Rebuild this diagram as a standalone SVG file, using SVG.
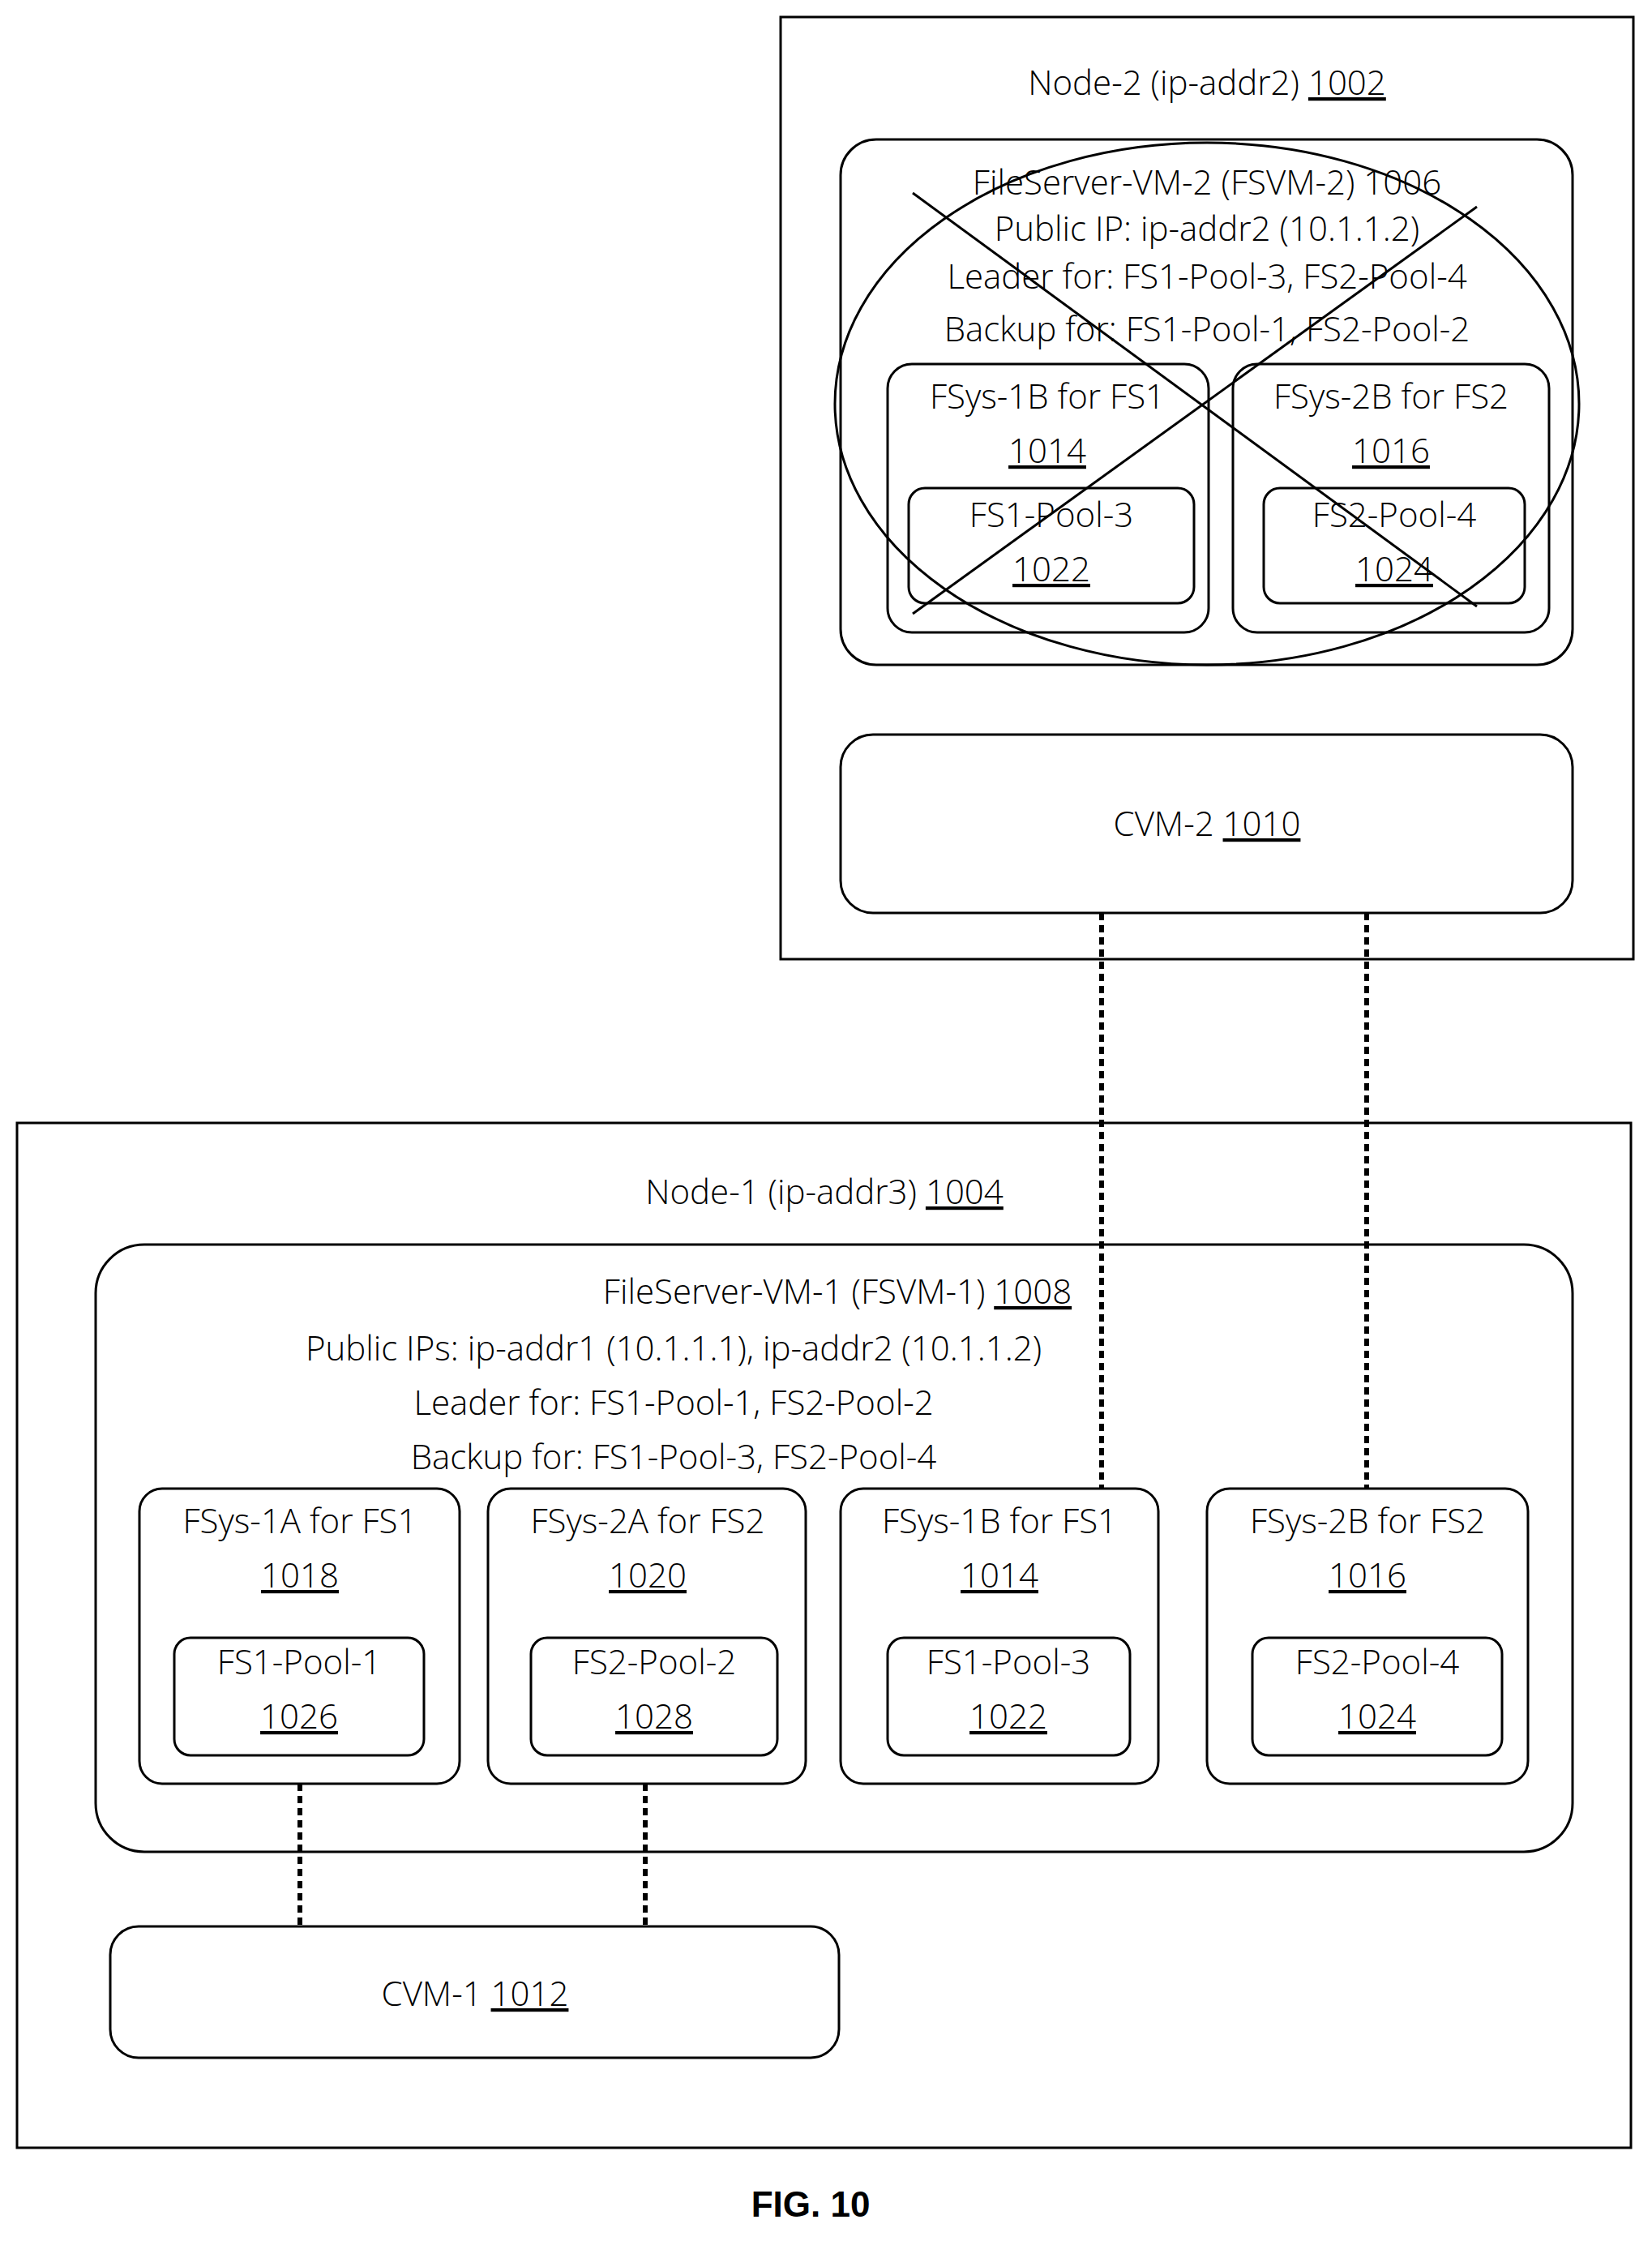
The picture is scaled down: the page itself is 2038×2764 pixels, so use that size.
<svg xmlns="http://www.w3.org/2000/svg" width="2038" height="2764" viewBox="0 0 2038 2764">
<style>
.n{fill:none;stroke:#000;stroke-width:3}
.r{fill:none;stroke:#000;stroke-width:3}
text{font-family:"Open Sans","Liberation Sans",sans-serif;font-weight:300;font-size:42px;text-anchor:middle;fill:#000}
.u{text-decoration:underline}
.d{stroke:#000;stroke-width:6;stroke-dasharray:9 6;fill:none}
</style>
<rect width="2038" height="2764" fill="#fff"/>
<g id="node2">
<rect class="n" x="963" y="21" width="1052" height="1162"/>
<text x="1489" y="117">Node-2 (ip-addr2) <tspan class="u">1002</tspan></text>
</g>
<g id="fsvm2">
<rect class="r" x="1037" y="172" width="903" height="648" rx="44"/>
<text x="1489" y="240">FileServer-VM-2 (FSVM-2) 1006</text>
<text x="1489" y="297">Public IP: ip-addr2 (10.1.1.2)</text>
<text x="1489" y="356">Leader for: FS1-Pool-3, FS2-Pool-4</text>
<text x="1489" y="421">Backup for: FS1-Pool-1, FS2-Pool-2</text>
<rect class="r" x="1095" y="449" width="396" height="331" rx="30"/>
<text x="1292" y="504">FSys-1B for FS1</text>
<text x="1292" y="571" class="u">1014</text>
<rect class="r" x="1121" y="602" width="352" height="142" rx="20"/>
<text x="1297" y="650">FS1-Pool-3</text>
<text x="1297" y="717" class="u">1022</text>
<rect class="r" x="1521" y="449" width="390" height="331" rx="30"/>
<text x="1716" y="504">FSys-2B for FS2</text>
<text x="1716" y="571" class="u">1016</text>
<rect class="r" x="1559" y="602" width="322" height="142" rx="20"/>
<text x="1720" y="650">FS2-Pool-4</text>
<text x="1720" y="717" class="u">1024</text>
<ellipse class="r" cx="1489" cy="498" rx="459" ry="322"/>
<line class="r" x1="1126" y1="238" x2="1822" y2="748"/>
<line class="r" x1="1822" y1="255" x2="1126" y2="757"/>
</g>
<g id="cvm2">
<rect class="r" x="1037" y="906" width="903" height="220" rx="40"/>
<text x="1489" y="1031">CVM-2 <tspan class="u">1010</tspan></text>
</g>
<g id="node1">
<rect class="n" x="21" y="1385" width="1991" height="1264"/>
<text x="1017" y="1485">Node-1 (ip-addr3) <tspan class="u">1004</tspan></text>
</g>
<g id="fsvm1">
<rect class="r" x="118" y="1535" width="1822" height="749" rx="60"/>
<text x="1033" y="1608">FileServer-VM-1 (FSVM-1) <tspan class="u">1008</tspan></text>
<text x="831" y="1678">Public IPs: ip-addr1 (10.1.1.1), ip-addr2 (10.1.1.2)</text>
<text x="831" y="1745">Leader for: FS1-Pool-1, FS2-Pool-2</text>
<text x="831" y="1812">Backup for: FS1-Pool-3, FS2-Pool-4</text>
</g>
<g id="fsys1a">
<rect class="r" x="172" y="1836" width="395" height="364" rx="28"/>
<text x="370" y="1891">FSys-1A for FS1</text>
<text x="370" y="1958" class="u">1018</text>
<rect class="r" x="215" y="2020" width="308" height="145" rx="20"/>
<text x="369" y="2065">FS1-Pool-1</text>
<text x="369" y="2132" class="u">1026</text>
</g>
<g id="fsys2a">
<rect class="r" x="602" y="1836" width="392" height="364" rx="28"/>
<text x="799" y="1891">FSys-2A for FS2</text>
<text x="799" y="1958" class="u">1020</text>
<rect class="r" x="655" y="2020" width="304" height="145" rx="20"/>
<text x="807" y="2065">FS2-Pool-2</text>
<text x="807" y="2132" class="u">1028</text>
</g>
<g id="fsys1b">
<rect class="r" x="1037" y="1836" width="392" height="364" rx="28"/>
<text x="1233" y="1891">FSys-1B for FS1</text>
<text x="1233" y="1958" class="u">1014</text>
<rect class="r" x="1095" y="2020" width="299" height="145" rx="20"/>
<text x="1244" y="2065">FS1-Pool-3</text>
<text x="1244" y="2132" class="u">1022</text>
</g>
<g id="fsys2b">
<rect class="r" x="1489" y="1836" width="396" height="364" rx="28"/>
<text x="1687" y="1891">FSys-2B for FS2</text>
<text x="1687" y="1958" class="u">1016</text>
<rect class="r" x="1545" y="2020" width="308" height="145" rx="20"/>
<text x="1699" y="2065">FS2-Pool-4</text>
<text x="1699" y="2132" class="u">1024</text>
</g>
<g id="cvm1">
<rect class="r" x="136" y="2376" width="899" height="162" rx="35"/>
<text x="586" y="2474">CVM-1 <tspan class="u">1012</tspan></text>
</g>
<g id="connectors">
<line class="d" x1="1359" y1="1126" x2="1359" y2="1836"/>
<line class="d" x1="1686" y1="1126" x2="1686" y2="1836"/>
<line class="d" x1="370" y1="2200" x2="370" y2="2376"/>
<line class="d" x1="796" y1="2200" x2="796" y2="2376"/>
</g>
<text x="1000" y="2734" style="font-family:'Liberation Sans',Arial,sans-serif;font-weight:700;font-size:44px">FIG. 10</text>
</svg>
